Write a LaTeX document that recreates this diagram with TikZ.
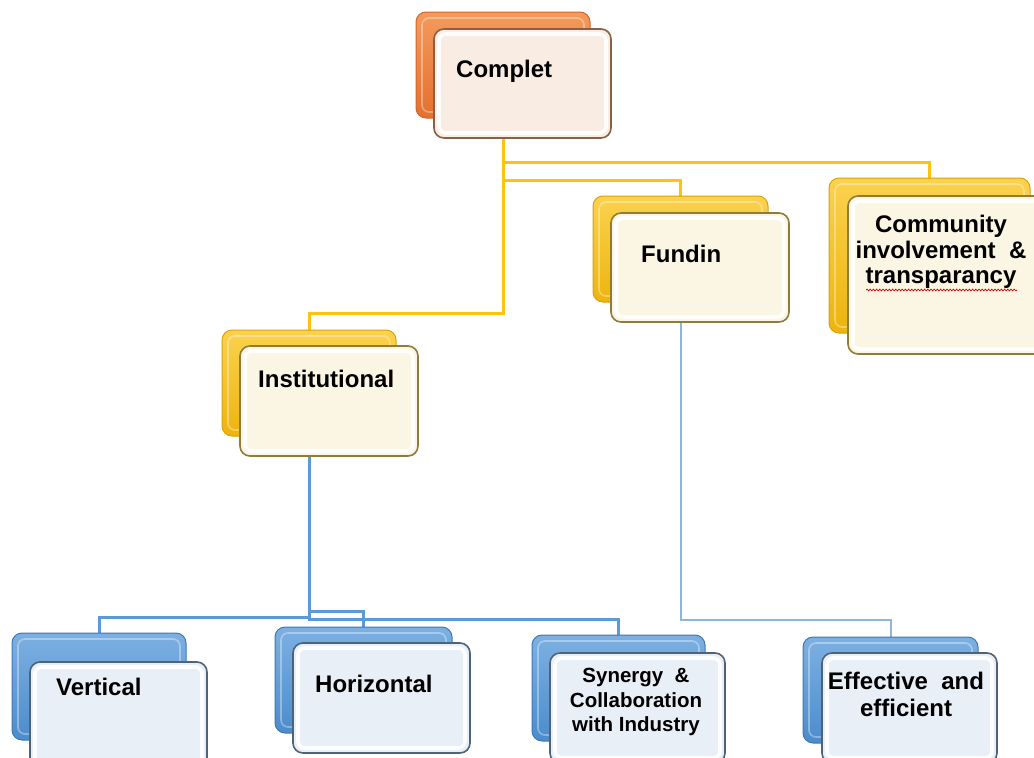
\documentclass[tikz,border=0pt]{standalone}
\usepackage{fontspec}
\setmainfont{Liberation Sans}
\usetikzlibrary{backgrounds,decorations.pathmorphing}

\definecolor{orangeTop}{HTML}{F49A5C}
\definecolor{orangeBot}{HTML}{E3702F}
\definecolor{orangeEdge}{HTML}{D2662C}
\definecolor{goldTop}{HTML}{FBD24E}
\definecolor{goldBot}{HTML}{EDB40E}
\definecolor{goldEdge}{HTML}{D9A20A}
\definecolor{blueTop}{HTML}{7DB0E2}
\definecolor{blueBot}{HTML}{4C8CCB}
\definecolor{blueEdge}{HTML}{3F78B3}
\definecolor{peachFace}{HTML}{F9ECE3}
\definecolor{peachRim}{HTML}{8B5E47}
\definecolor{creamFace}{HTML}{FBF5E3}
\definecolor{creamRim}{HTML}{8F7B3C}
\definecolor{iceFace}{HTML}{E9EFF7}
\definecolor{iceRim}{HTML}{4E6376}
\definecolor{linkGold}{HTML}{FFC20E}
\definecolor{linkBlue}{HTML}{5B9BD5}
\definecolor{linkPale}{HTML}{8DB6D9}

\tikzset{
  tile/.style={rectangle, rounded corners=10pt, inner sep=0pt, outer sep=0pt},
  backtile/.style={tile, line width=1pt,
    path picture={\draw[white, opacity=0.35, line width=1.6pt, rounded corners=7pt]
      ([shift={(6pt,-6pt)}]path picture bounding box.north west) rectangle
      ([shift={(-6pt,6pt)}]path picture bounding box.south east);}},
  fronttile/.style={tile, line width=1.6pt,
    path picture={\draw[white, opacity=0.9, line width=3.6pt, rounded corners=7pt]
      ([shift={(5pt,-5pt)}]path picture bounding box.north west) rectangle
      ([shift={(-5pt,5pt)}]path picture bounding box.south east);}},
  orangeback/.style={backtile, draw=orangeEdge, top color=orangeTop, bottom color=orangeBot},
  goldback/.style={backtile, draw=goldEdge, top color=goldTop, bottom color=goldBot},
  blueback/.style={backtile, draw=blueEdge, top color=blueTop, bottom color=blueBot},
  peachfront/.style={fronttile, draw=peachRim, fill=peachFace},
  creamfront/.style={fronttile, draw=creamRim, fill=creamFace},
  icefront/.style={fronttile, draw=iceRim, fill=iceFace},
  lbl/.style={font=\fontsize{24}{25.5}\selectfont\bfseries, inner sep=0pt, text=black},
  goldlink/.style={draw=linkGold, line width=3pt},
  bluelink/.style={draw=linkBlue, line width=3pt},
  palelink/.style={draw=linkPale, line width=2pt},
}

\begin{document}
\begin{tikzpicture}[x=1pt, y=-1pt]
  \useasboundingbox (0,0) rectangle (1034,758);
  \clip (0,0) rectangle (1034,758);

  % top tier
  \node[orangeback, minimum width=174pt, minimum height=106pt] (cb) at (503,65) {};
  \node[peachfront, minimum width=177pt, minimum height=109pt] (cf) at (522.5,83.5) {};
  \node[lbl, anchor=base west] (ct) at (456,77) {Complet};

  % second tier
  \node[goldback, minimum width=175pt, minimum height=106pt] (fb) at (680.5,249) {};
  \node[creamfront, minimum width=178pt, minimum height=109pt] (ff) at (700,267.5) {};
  \node[lbl, anchor=base west] (ft) at (641,262) {Fundin};

  \node[goldback, minimum width=201pt, minimum height=155pt] (mb) at (929.5,255.5) {};
  \node[creamfront, minimum width=202pt, minimum height=158pt] (mf) at (949,275) {};
  \node[lbl, align=center] (mt) at (941,252)
    {Community\\involvement\ \ \&\\transparancy};
  \draw[red!85!black, line width=0.7pt, decorate,
        decoration={snake, amplitude=0.9pt, segment length=3.2pt}]
    (866,290) -- (1017,290);

  \node[goldback, minimum width=174pt, minimum height=106pt] (ib) at (309,383) {};
  \node[creamfront, minimum width=178pt, minimum height=110pt] (if) at (329,401) {};
  \node[lbl, anchor=base west] (it) at (258,387) {Institutional};

  % bottom tier
  \node[blueback, minimum width=174pt, minimum height=107pt] (vb) at (99,686.5) {};
  \node[icefront, minimum width=177pt, minimum height=110pt] (vf) at (118.5,717) {};
  \node[lbl, anchor=base west] (vt) at (56,695) {Vertical};

  \node[blueback, minimum width=177pt, minimum height=106pt] (hb) at (363.5,680) {};
  \node[icefront, minimum width=177pt, minimum height=110pt] (hf) at (381.5,698) {};
  \node[lbl, anchor=base west] (ht) at (315,692) {Horizontal};

  \node[blueback, minimum width=173pt, minimum height=106pt] (sb) at (618.5,688) {};
  \node[icefront, minimum width=175pt, minimum height=110pt] (sf) at (637.5,708) {};
  \node[lbl, font=\fontsize{20.5}{24.5}\selectfont\bfseries, align=center] (st) at (636,702)
    {Synergy \ \&\\Collaboration\\with Industry};

  \node[blueback, minimum width=175pt, minimum height=106pt] (eb) at (890.5,690) {};
  \node[icefront, minimum width=175pt, minimum height=110pt] (ef) at (909.5,708) {};
  \node[lbl, font=\fontsize{24}{27}\selectfont\bfseries, align=center] (et) at (906,694)
    {Effective\ \ and\\efficient};

  % connectors, kept behind the tiles
  \begin{scope}[on background layer]
    \draw[goldlink] (cb.south) |- (mb.north |- 0,162) -- (mb.north);
    \draw[goldlink] (cb.south) |- (fb.north |- 0,180) -- (fb.north);
    \draw[goldlink] (cb.south) |- (ib.north |- 0,313) -- (ib.north);
    \draw[bluelink] (ib.south) |- (vb.north |- 0,617) -- (vb.north);
    \draw[bluelink] (ib.south) |- (hb.north |- 0,611) -- (hb.north);
    \draw[bluelink] (ib.south) |- (sb.north |- 0,619) -- (sb.north);
    \draw[palelink] (fb.south) |- (eb.north |- 0,620) -- (eb.north);
  \end{scope}
\end{tikzpicture}
\end{document}
